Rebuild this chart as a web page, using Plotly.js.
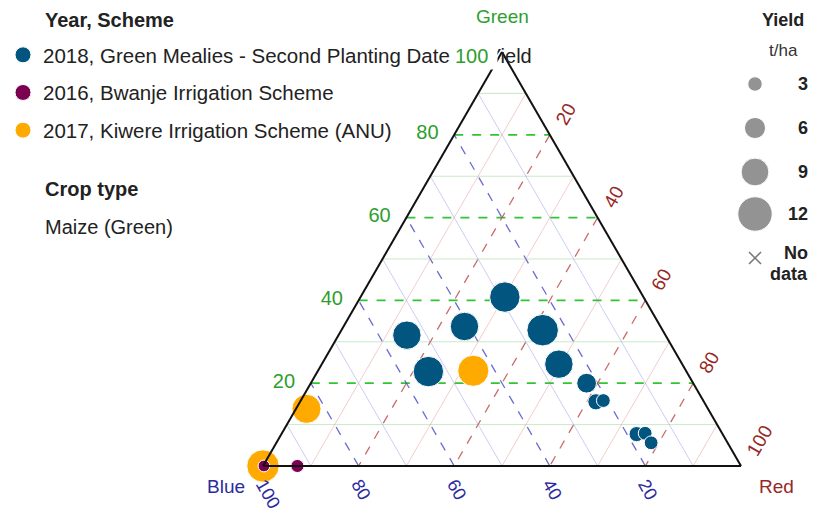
<!DOCTYPE html>
<html><head><meta charset="utf-8">
<script src="https://cdn.plot.ly/plotly-3.0.1.min.js"></script>
<style>html,body{margin:0;padding:0;background:#fff}#chart{width:813px;height:511px}</style>
</head><body><div id="chart"></div>
<script>
// ---- data (Green = a, Blue = b, Red = c, percentages) ----
const seriesNames = ['2018, Green Mealies - Second Planting Date', '2016, Bwanje Irrigation Scheme', '2017, Kiwere Irrigation Scheme (ANU)'];
const seriesColors = ['#01557f', '#7b0050', '#ffaa00'];
const axisNames = ['Green', 'Blue', 'Red'];

const green2018 = [40.8, 31.6, 33.7, 32.8, 22.8, 24.6, 20.0, 15.5, 15.8, 7.7, 7.9, 5.6];
const blue2018  = [29.0, 54.1, 41.0, 25.1, 54.0, 25.8, 22.3, 22.6, 20.9, 18.0, 16.1, 16.0];
const red2018   = [30.2, 14.3, 25.3, 42.1, 23.2, 49.6, 57.7, 61.9, 63.3, 74.3, 76.0, 78.4];
const yield2018 = [10.2, 9.3, 9.3, 10.7, 10.2, 9.3, 5.4, 3.8, 2.7, 3.3, 2.7, 2.7];

const green2016 = [0, 0];
const blue2016  = [99.8, 92.8];
const red2016   = [0.2, 7.2];
const yield2016 = [1.8, 2.4];

const green2017 = [23.0, 13.8, 0];
const blue2017  = [44.5, 84.0, 100];
const red2017   = [32.5, 2.2, 0];
const yield2017 = [10.5, 9.6, 11.1];

const sizeLegendValues = [3, 6, 9, 12];
const sizeLegendLabels = ['3', '6', '9', '12'];
const gridMajor = [20, 40, 60, 80];
const gridMinor = [10, 30, 50, 70, 90];

// ---- helpers ----
const FONT = 'Liberation Sans, Arial, sans-serif';
const GREEN_TXT = '#2e9e2e', BLUE_TXT = '#2b2b9e', RED_TXT = '#962828';
function yieldToSize(y) { return 7.8 + 2.22 * y; }

function minorGrid(axis) {
  const a = [], b = [], c = [];
  gridMinor.forEach(v => {
    const r = 100 - v;
    if (axis === 'a') { a.push(v, v, null); b.push(r, 0, null); c.push(0, r, null); }
    if (axis === 'b') { b.push(v, v, null); a.push(r, 0, null); c.push(0, r, null); }
    if (axis === 'c') { c.push(v, v, null); a.push(r, 0, null); b.push(0, r, null); }
  });
  return {a, b, c};
}
const minorColors = {a: 'rgba(110,200,110,0.38)', b: 'rgba(110,110,220,0.35)', c: 'rgba(220,110,110,0.35)'};
const traces = [];
['a', 'b', 'c'].forEach(ax => {
  const g = minorGrid(ax);
  traces.push({type: 'scatterternary', mode: 'lines', a: g.a, b: g.b, c: g.c,
    line: {color: minorColors[ax], width: 1}, showlegend: false, hoverinfo: 'skip', connectgaps: false});
});

function pointTrace(name, color, a, b, c, y, rank) {
  return {type: 'scatterternary', mode: 'markers', name: name, a: a, b: b, c: c,
    legendgroup: name, legendrank: rank, showlegend: false, cliponaxis: false,
    marker: {color: color, size: y.map(yieldToSize), sizemode: 'diameter', line: {color: '#ffffff', width: 1}, opacity: 1},
    text: y.map(v => 'Yield: ' + v + ' t/ha'), hoverinfo: 'text+a+b+c'};
}
traces.push(pointTrace(seriesNames[0], seriesColors[0], green2018, blue2018, red2018, yield2018, 1));
traces.push(pointTrace(seriesNames[2], seriesColors[2], green2017, blue2017, red2017, yield2017, 3));
traces.push(pointTrace(seriesNames[1], seriesColors[1], green2016, blue2016, red2016, yield2016, 2));
// legend entries (constant symbol size, as in the reference legend)
seriesNames.forEach((n, i) => traces.push({type: 'scatterternary', mode: 'markers', name: n,
  a: [null], b: [null], c: [null], legendgroup: n, legendrank: i + 1, showlegend: true,
  marker: {color: seriesColors[i], size: 16, line: {color: '#ffffff', width: 1}}, hoverinfo: 'skip'}));

// size legend (on a hidden pixel-mapped cartesian overlay)
const sizeLegendY = [84, 128, 172, 214];
traces.push({type: 'scatter', mode: 'markers', x: sizeLegendValues.map(() => 755), y: sizeLegendY,
  marker: {color: '#666666', size: sizeLegendValues.map(yieldToSize), sizemode: 'diameter'},
  showlegend: false, hoverinfo: 'skip', xaxis: 'x', yaxis: 'y', cliponaxis: false});
traces.push({type: 'scatter', mode: 'markers', x: [755], y: [258],
  marker: {color: '#777777', size: 12, symbol: 'x-thin', line: {color: '#777777', width: 1.5}},
  showlegend: false, hoverinfo: 'skip', xaxis: 'x', yaxis: 'y', cliponaxis: false});

const annotations = [
  {text: axisNames[0], x: 502, y: 16, xanchor: 'center', size: 19, color: GREEN_TXT},
  {text: axisNames[1], x: 226, y: 486, xanchor: 'center', size: 19, color: BLUE_TXT},
  {text: axisNames[2], x: 776, y: 486, xanchor: 'center', size: 19, color: RED_TXT},
  {text: '<b>Year, Scheme</b>', x: 43, y: 20},
  {text: '<b>Crop type</b>', x: 43, y: 189},
  {text: 'Maize (Green)', x: 43, y: 227},
  {text: 'Yield', x: 486, y: 56},
  {text: '100', x: 452, y: 56, color: GREEN_TXT, size: 20, bg: '#ffffff', width: 40},
  {text: '<b>Yield</b>', x: 806, y: 20, xanchor: 'right', size: 18},
  {text: 't/ha', x: 783, y: 50, xanchor: 'center', size: 17, color: '#333'},
  {text: '<b>No</b>', x: 810, y: 253, xanchor: 'right', size: 18},
  {text: '<b>data</b>', x: 810, y: 274, xanchor: 'right', size: 18}
].map(o => {
  const ann = {
    text: o.text, xref: 'x', yref: 'y', x: o.x, y: o.y, showarrow: false,
    xanchor: o.xanchor || 'left', yanchor: 'middle',
    bgcolor: o.bg || 'rgba(0,0,0,0)', borderpad: o.bg ? 2 : 1,
    font: {family: FONT, size: o.size || 20, color: o.color || '#222'}
  };
  if (o.width) { ann.width = o.width; ann.align = 'left'; }
  return ann;
});
sizeLegendLabels.forEach((t, i) => annotations.push({
  text: '<b>' + t + '</b>', xref: 'x', yref: 'y', x: 810, y: sizeLegendY[i], showarrow: false,
  xanchor: 'right', yanchor: 'middle', font: {family: FONT, size: 18, color: '#222'}
}));

const W = 813, H = 511;
const axisCommon = {min: 0, showline: true, linecolor: '#111', linewidth: 2, ticks: '', griddash: 'dash', gridwidth: 1.3};
const layout = {
  width: W, height: H, margin: {l: 0, r: 0, t: 0, b: 0}, paper_bgcolor: '#fff', plot_bgcolor: 'rgba(0,0,0,0)',
  font: {family: FONT, color: '#222'},
  showlegend: true,
  legend: {x: 3 / W, y: 1 - 35 / H, xanchor: 'left', yanchor: 'top', font: {family: FONT, size: 20.5, color: '#222'},
    bgcolor: 'rgba(0,0,0,0)', tracegroupgap: 8, traceorder: 'grouped', itemclick: false},
  ternary: {
    sum: 100, bgcolor: '#fff',
    domain: {x: [263 / W, 741 / W], y: [(H - 466) / H, (H - 52) / H]},
    aaxis: Object.assign({}, axisCommon, {title: {text: ''},
      tickfont: {size: 20, color: GREEN_TXT}, gridcolor: '#33c433', gridwidth: 1.7, tickvals: gridMajor,
      ticks: 'outside', ticklen: 12, tickcolor: 'rgba(0,0,0,0)'}),
    baxis: Object.assign({}, axisCommon, {title: {text: ''},
      tickfont: {size: 18, color: BLUE_TXT}, gridcolor: 'rgba(70,70,200,0.8)', tickangle: 60, tickvals: gridMajor.concat([100])}),
    caxis: Object.assign({}, axisCommon, {title: {text: ''},
      tickfont: {size: 19, color: RED_TXT}, gridcolor: 'rgba(190,70,70,0.8)', tickangle: -60, tickvals: gridMajor.concat([100]),
      ticks: 'outside', ticklen: 9, tickcolor: 'rgba(0,0,0,0)'})
  },
  xaxis: {range: [0, W], domain: [0, 1], visible: false, fixedrange: true},
  yaxis: {range: [H, 0], domain: [0, 1], visible: false, fixedrange: true},
  annotations: annotations
};
Plotly.newPlot('chart', traces, layout, {displayModeBar: false, staticPlot: true});
</script>
</body></html>
